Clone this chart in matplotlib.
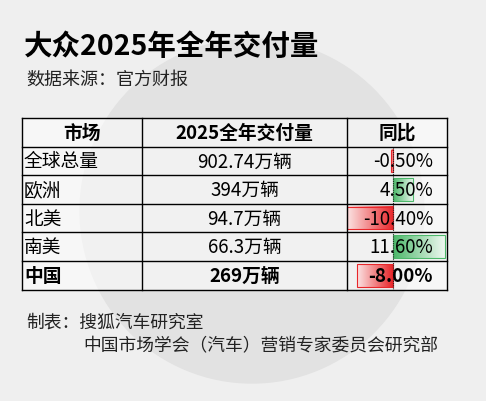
import numpy as np
import matplotlib.pyplot as plt
from matplotlib.patches import Rectangle, Circle
from matplotlib.colors import LinearSegmentedColormap

plt.rcParams['font.family'] = ['Noto Sans CJK SC', 'DejaVu Sans']

markets = ['全球总量', '欧洲', '北美', '南美', '中国']
deliveries = ['902.74万辆', '394万辆', '94.7万辆', '66.3万辆', '269万辆']
yoy = [-0.5, 4.5, -10.4, 11.6, -8.0]
headers = ['市场', '2025全年交付量', '同比']

fig = plt.figure(figsize=(4.86, 4.02), dpi=100)
fig.patch.set_facecolor('#efefef')
ax = fig.add_axes([0, 0, 1, 1])
ax.set_xlim(0, 486)
ax.set_ylim(402, 0)
ax.axis('off')

# faint watermark
ax.add_patch(Circle((252, 212), 172, color='#e2e2e2', zorder=0))

ax.text(24, 47, '大众2025年全年交付量', fontsize=20.5, fontweight='bold', va='center')
ax.text(26, 80, '数据来源：官方财报', fontsize=13, va='center', color='#222222')

left, c1, c2, right = 22, 142, 347, 447
top = 119
rh = 28.6
zero_x = 393
px_per_pct = 4.45

ax.add_patch(Rectangle((left, top), right - left, rh * 6, facecolor='white', alpha=0.55,
                       edgecolor='none', zorder=1))

# header
for txt, x0, x1 in zip(headers, [left, c1, c2], [c1, c2, right]):
    ax.text((x0 + x1) / 2, top + rh / 2, txt, fontsize=13.5, fontweight='bold', ha='center', va='center', zorder=5)

for i, (m, d, v) in enumerate(zip(markets, deliveries, yoy)):
    y = top + rh * (i + 1)
    w = 'bold' if m == '中国' else 'normal'
    ax.text(left + 2, y + rh / 2, m, fontsize=13.5, fontweight=w, va='center', zorder=5)
    ax.text((c1 + c2) / 2, y + rh / 2, d, fontsize=13.5, fontweight=w, ha='center', va='center', zorder=5)
    bw = v * px_per_pct
    if v < 0:
        grad = np.linspace(0, 1, 64)[None, :]
        cmap = LinearSegmentedColormap.from_list('r', ['#fbe3e3', '#e8262a'])
    else:
        grad = np.linspace(1, 0, 64)[None, :]
        cmap = LinearSegmentedColormap.from_list('g', ['#eef8f0', '#4cb86a'])
    x0, x1 = sorted([zero_x, zero_x + bw])
    ax.imshow(grad, cmap=cmap, extent=[x0, x1, y + rh - 3, y + 3], aspect='auto', zorder=3)
    ax.add_patch(Rectangle((x0, y + 3), x1 - x0, rh - 6, fill=False,
                           edgecolor='#e8262a' if v < 0 else '#4cb86a', lw=0.8, zorder=4))
    ax.text(right - 14, y + rh / 2, f'{v:.2f}%', fontsize=13.5, fontweight=w, ha='right', va='center', zorder=5)

ax.plot([zero_x, zero_x], [top + rh, top + rh * 6], color='#222222', lw=0.8, ls=(0, (1, 1)), zorder=4)

# grid lines
for i in range(7):
    ax.plot([left, right], [top + rh * i] * 2, color='black', lw=1, zorder=6)
for x in [left, c1, c2, right]:
    ax.plot([x, x], [top, top + rh * 6], color='black', lw=1, zorder=6)

ax.text(26, 323, '制表：搜狐汽车研究室', fontsize=12.8, va='center', color='#222222')
ax.text(83, 346, '中国市场学会（汽车）营销专家委员会研究部', fontsize=12.8, va='center', color='#222222')

fig.savefig('out.png', dpi=100, facecolor=fig.get_facecolor())
